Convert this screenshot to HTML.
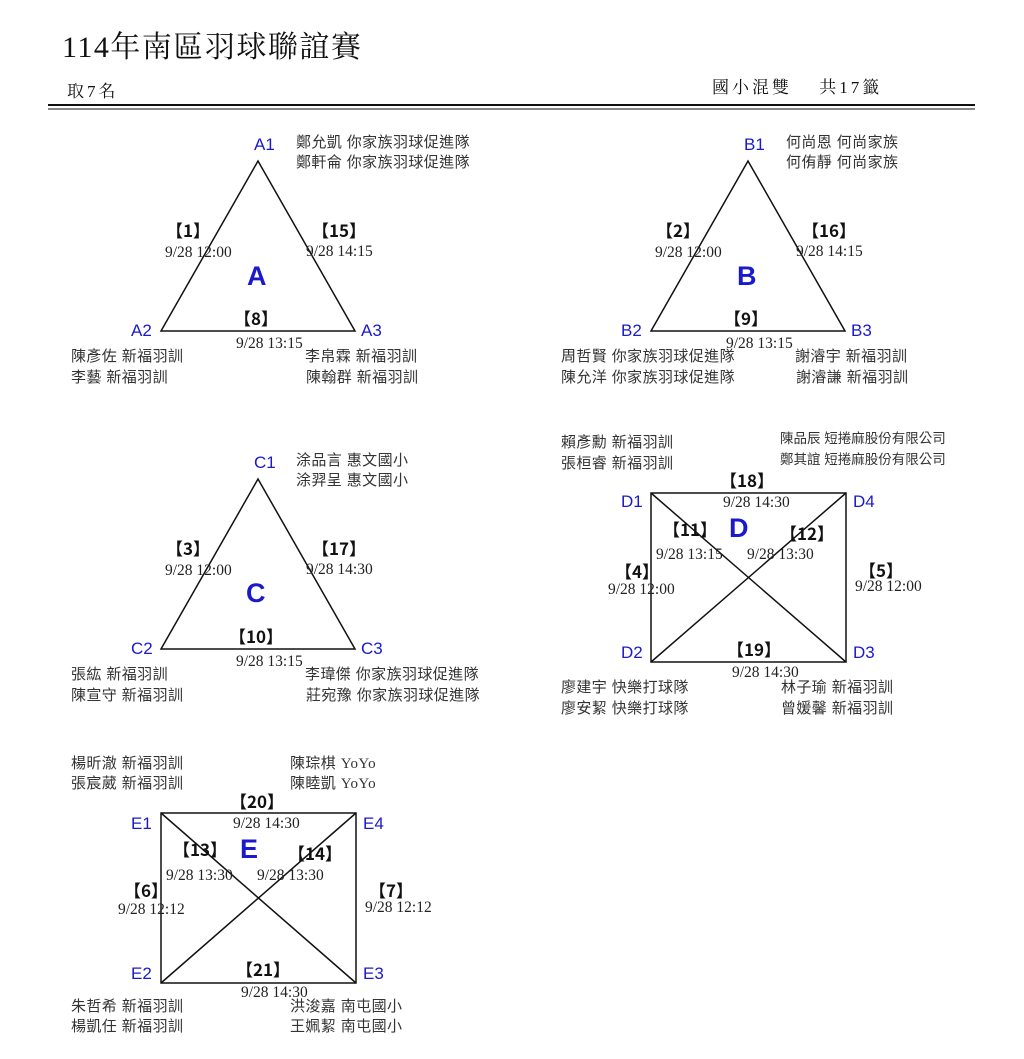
<!DOCTYPE html>
<html><head><meta charset="utf-8"><style>
html,body{margin:0;padding:0;background:#fff;}
svg{display:block;}
.t{font-family:"Liberation Serif","Noto Serif CJK TC","Noto Serif CJK SC",serif;font-size:30px;fill:#111;letter-spacing:1.5px;}
.h{font-family:"Liberation Serif","Noto Serif CJK TC","Noto Serif CJK SC",serif;font-size:17px;fill:#111;letter-spacing:3px;}
.n{font-family:"Liberation Sans","Noto Sans CJK TC",sans-serif;font-size:15px;fill:#333;letter-spacing:0.4px;}
.s{font-family:"Liberation Sans","Noto Sans CJK TC",sans-serif;font-size:13.5px;fill:#333;}
.m{font-family:"Liberation Serif","Noto Serif CJK SC",serif;font-size:15.5px;fill:#222;}
.b{font-family:"Noto Sans CJK TC","Liberation Serif",sans-serif;font-size:17px;fill:#111;font-weight:bold;}
.v{font-family:"Liberation Sans",sans-serif;font-size:17px;fill:#1a1acc;}
.g{font-family:"Liberation Sans",sans-serif;font-size:27px;fill:#1a1acc;font-weight:bold;}
line,polygon,rect{stroke:#111;stroke-width:1.5;fill:none;}
</style></head><body>
<svg width="1024" height="1059" viewBox="0 0 1024 1059" xmlns="http://www.w3.org/2000/svg">
<text class="t" x="62" y="57">114年南區羽球聯誼賽</text>
<text class="h" x="67" y="97">取7名</text>
<text class="h" x="712" y="93">國小混雙　 共17籤</text>
<line x1="48" y1="105" x2="975" y2="105" style="stroke-width:2"/>
<line x1="48" y1="109" x2="975" y2="109" style="stroke-width:1"/>

<!-- A -->
<polygon points="258,161 161,331 355,331"/>
<text class="v" x="254" y="150">A1</text><text class="v" x="131" y="336">A2</text><text class="v" x="361" y="336">A3</text>
<text class="g" x="247" y="285">A</text>
<text class="n" x="296" y="147">鄭允凱 你家族羽球促進隊</text><text class="n" x="296" y="167">鄭軒侖 你家族羽球促進隊</text>
<text class="b" x="166" y="237">【1】</text><text class="m" x="165" y="257">9/28 12:00</text>
<text class="b" x="312" y="237">【15】</text><text class="m" x="306" y="256">9/28 14:15</text>
<text class="b" x="234" y="325">【8】</text><text class="m" x="236" y="348">9/28 13:15</text>
<text class="n" x="71" y="361">陳彥佐 新福羽訓</text><text class="n" x="71" y="382">李藝 新福羽訓</text>
<text class="n" x="305" y="361">李帛霖 新福羽訓</text><text class="n" x="306" y="382">陳翰群 新福羽訓</text>

<!-- B -->
<polygon points="748,161 651,331 845,331"/>
<text class="v" x="744" y="150">B1</text><text class="v" x="621" y="336">B2</text><text class="v" x="851" y="336">B3</text>
<text class="g" x="737" y="285">B</text>
<text class="n" x="786" y="147">何尚恩 何尚家族</text><text class="n" x="786" y="167">何侑靜 何尚家族</text>
<text class="b" x="656" y="237">【2】</text><text class="m" x="655" y="257">9/28 12:00</text>
<text class="b" x="802" y="237">【16】</text><text class="m" x="796" y="256">9/28 14:15</text>
<text class="b" x="724" y="325">【9】</text><text class="m" x="726" y="348">9/28 13:15</text>
<text class="n" x="561" y="361">周哲賢 你家族羽球促進隊</text><text class="n" x="561" y="382">陳允洋 你家族羽球促進隊</text>
<text class="n" x="795" y="361">謝濬宇 新福羽訓</text><text class="n" x="796" y="382">謝濬謙 新福羽訓</text>

<!-- C -->
<polygon points="258,479 161,649 355,649"/>
<text class="v" x="254" y="468">C1</text><text class="v" x="131" y="654">C2</text><text class="v" x="361" y="654">C3</text>
<text class="g" x="246" y="602">C</text>
<text class="n" x="296" y="465">涂品言 惠文國小</text><text class="n" x="296" y="485">涂羿呈 惠文國小</text>
<text class="b" x="166" y="555">【3】</text><text class="m" x="165" y="575">9/28 12:00</text>
<text class="b" x="312" y="555">【17】</text><text class="m" x="306" y="574">9/28 14:30</text>
<text class="b" x="229" y="643">【10】</text><text class="m" x="236" y="666">9/28 13:15</text>
<text class="n" x="71" y="679">張紘 新福羽訓</text><text class="n" x="71" y="700">陳宣守 新福羽訓</text>
<text class="n" x="305" y="679">李瑋傑 你家族羽球促進隊</text><text class="n" x="306" y="700">莊宛豫 你家族羽球促進隊</text>

<!-- D -->
<rect x="651" y="493" width="195" height="169"/>
<line x1="651" y1="493" x2="846" y2="662"/><line x1="651" y1="662" x2="846" y2="493"/>
<text class="v" x="621" y="507">D1</text><text class="v" x="853" y="507">D4</text>
<text class="v" x="621" y="658">D2</text><text class="v" x="853" y="658">D3</text>
<text class="g" x="729" y="537">D</text>
<text class="n" x="561" y="447">賴彥勳 新福羽訓</text><text class="n" x="561" y="468">張桓睿 新福羽訓</text>
<text class="s" x="780" y="443">陳品辰 短捲麻股份有限公司</text><text class="s" x="780" y="464">鄭其誼 短捲麻股份有限公司</text>
<text class="b" x="720" y="487">【18】</text><text class="m" x="723" y="507">9/28 14:30</text>
<text class="b" x="663" y="536">【11】</text><text class="m" x="656" y="559">9/28 13:15</text>
<text class="b" x="780" y="540">【12】</text><text class="m" x="747" y="559">9/28 13:30</text>
<text class="b" x="615" y="578">【4】</text><text class="m" x="608" y="594">9/28 12:00</text>
<text class="b" x="859" y="577">【5】</text><text class="m" x="855" y="591">9/28 12:00</text>
<text class="b" x="727" y="656">【19】</text><text class="m" x="732" y="677">9/28 14:30</text>
<text class="n" x="561" y="692">廖建宇 快樂打球隊</text><text class="n" x="561" y="713">廖安絜 快樂打球隊</text>
<text class="n" x="781" y="692">林子瑜 新福羽訓</text><text class="n" x="781" y="713">曾媛馨 新福羽訓</text>

<!-- E -->
<rect x="161" y="813" width="195" height="170"/>
<line x1="161" y1="813" x2="356" y2="983"/><line x1="161" y1="983" x2="356" y2="813"/>
<text class="v" x="131" y="829">E1</text><text class="v" x="363" y="829">E4</text>
<text class="v" x="131" y="979">E2</text><text class="v" x="363" y="979">E3</text>
<text class="g" x="240" y="858">E</text>
<text class="n" x="71" y="768">楊昕澈 新福羽訓</text><text class="n" x="71" y="788">張宸葳 新福羽訓</text>
<text class="n" x="290" y="768">陳琮棋 <tspan style="font-family:'Liberation Serif',serif">YoYo</tspan></text><text class="n" x="290" y="788">陳睦凱 <tspan style="font-family:'Liberation Serif',serif">YoYo</tspan></text>
<text class="b" x="230" y="808">【20】</text><text class="m" x="233" y="828">9/28 14:30</text>
<text class="b" x="173" y="856">【13】</text><text class="m" x="166" y="880">9/28 13:30</text>
<text class="b" x="288" y="860">【14】</text><text class="m" x="257" y="880">9/28 13:30</text>
<text class="b" x="124" y="897">【6】</text><text class="m" x="118" y="914">9/28 12:12</text>
<text class="b" x="369" y="897">【7】</text><text class="m" x="365" y="912">9/28 12:12</text>
<text class="b" x="236" y="976">【21】</text><text class="m" x="241" y="997">9/28 14:30</text>
<text class="n" x="71" y="1011">朱哲希 新福羽訓</text><text class="n" x="71" y="1031">楊凱任 新福羽訓</text>
<text class="n" x="290" y="1011">洪浚嘉 南屯國小</text><text class="n" x="290" y="1031">王姵絜 南屯國小</text>
</svg>
</body></html>
